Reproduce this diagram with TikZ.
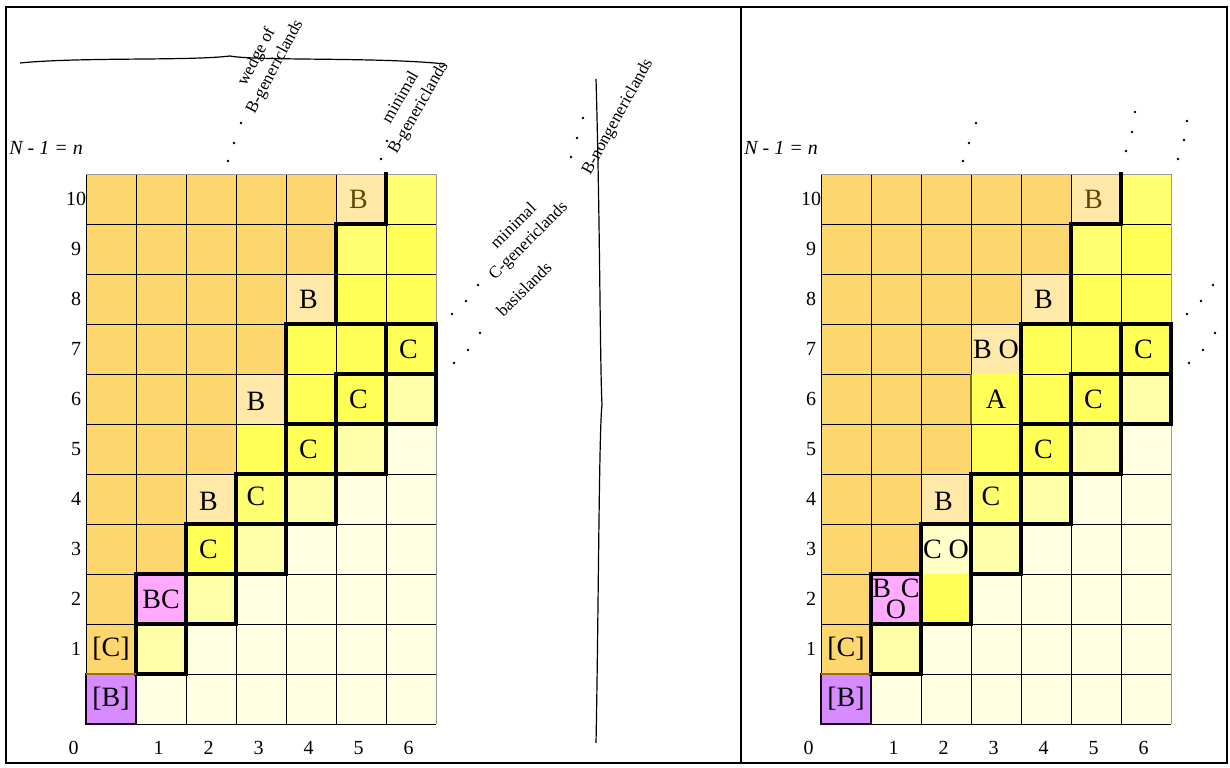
\documentclass[tikz,border=0pt]{standalone}
\usepackage{fontspec}
\setmainfont{Liberation Serif}
\usepackage{tikz}
\usetikzlibrary{positioning,calc}
\definecolor{wedgeorange}{RGB}{254,214,110}
\definecolor{bcellorange}{RGB}{255,232,168}
\definecolor{genyellow}{RGB}{255,255,85}
\definecolor{genyellowlt}{RGB}{255,255,112}
\definecolor{basisyellow}{RGB}{255,255,170}
\definecolor{coyellow}{RGB}{255,255,200}
\definecolor{paleyellow}{RGB}{255,255,226}
\definecolor{bcpink}{RGB}{255,170,255}
\definecolor{bpurple}{RGB}{214,140,255}
\definecolor{bbrown}{RGB}{95,72,10}
\definecolor{cbrown}{RGB}{150,110,20}

\begin{document}
\begin{tikzpicture}[x=37.5pt, y=37.5pt]
  \tikzstyle{gridline} = [line width=0.7pt, black]
  \tikzstyle{islandline} = [line width=2.6pt, black, line cap=rect]
  \tikzstyle{outerframe} = [line width=2pt, black]
  \tikzstyle{celltext} = [inner sep=0pt, font=\fontsize{21}{16}\selectfont]
  \tikzstyle{axislabel} = [inner sep=0pt, font=\fontsize{15}{15}\selectfont]
  \tikzstyle{rotlabel} = [inner sep=0pt, align=center, font=\fontsize{12.8}{15.5}\selectfont]
  \tikzstyle{dotfill} = [fill=black]

  \useasboundingbox (0,0) rectangle (24.6,15.34);
  \draw[outerframe] (0.12,0.08) rectangle (24.54,15.2);
  \draw[outerframe] (14.82,0.08) -- (14.82,15.2);

  % both grids
  \foreach \gx/\s in {1.72/l,16.42/r} {
    \begin{scope}[shift={(\gx,0.86)}]
      \fill[paleyellow] (0,0) rectangle (7,11);
      \foreach \r/\n in {10/5,9/5,8/4,7/4,6/3,5/3,4/2,3/2,2/1,1/1}
        \fill[wedgeorange] (0,\r) rectangle (\n,\r+1);
      \foreach \c/\r/\col in {5/10/bcellorange,4/8/bcellorange,2/4/bcellorange,
          6/10/genyellowlt,5/9/genyellowlt,6/9/genyellow,5/8/genyellow,6/8/genyellow,
          4/7/genyellow,5/7/genyellow,6/7/genyellow,4/6/genyellow,5/6/genyellow,
          3/5/genyellow,4/5/genyellow,3/4/genyellowlt,
          6/6/basisyellow,5/5/basisyellow,4/4/basisyellow,3/3/basisyellow,1/1/basisyellow,
          1/2/bcpink,0/0/bpurple}
        \fill[fill=\col] (\c,\r) rectangle ++(1,1);

      \foreach \i in {0,...,6}
        \draw[gridline] (\i,0) -- (\i,11);
      \foreach \j in {0,...,10}
        \draw[gridline] (0,\j) -- (7,\j);
      \draw[line width=0.7pt, black!40] (0,11) -- (7,11) -- (7,0);
    \end{scope}
  }

  % left grid
  \begin{scope}[shift={(1.72,0.86)}]
    \fill[genyellow] (2,3) rectangle (3,4);
    \fill[basisyellow] (2,2) rectangle (3,3);
    \fill[bcellorange] (3,6) rectangle (4,7);
    \draw[gridline] (2,2) rectangle (3,3);
    \draw[gridline] (3,6) rectangle (4,7);
    \draw[islandline] (6,11) -- (6,10) -- (5,10) -- (5,8) -- (4,8) -- (4,6);
    \draw[islandline] (4,8) -- (7,8);
    \foreach \c/\r in {6/7,5/6,4/5,3/4,2/3,1/2,6/6,5/5,4/4,3/3,2/2,1/1}
      \draw[islandline] (\c,\r) rectangle ++(1,1);
    \draw[line width=2pt, black!80!violet] (0,0) rectangle (1,1);
    \draw[line width=2pt, cbrown] (0,1) -- (1,1);
    \node[celltext] (l-b6) at (3.4,6.45) {B};
    \node[celltext] (l-c3) at (2.45,3.5) {C};
    \node[celltext] (l-bc) at (1.5,2.5) {BC};
    \foreach \px/\py in {5.90/11.30,6.02/11.66,9.70/11.34,9.82/11.72,9.94/12.12}
      \fill[dotfill] (\px,\py) circle (1.1pt);
  \end{scope}

  % right grid
  \begin{scope}[shift={(16.42,0.86)}]
    \fill[coyellow] (2,3) rectangle (3,4);
    \fill[genyellow] (2,2) rectangle (3,3);
    \fill[genyellow] (3,6) rectangle (4,7);
    \fill[bcellorange] (3,7) rectangle (4,8);
    \draw[gridline] (2,2) rectangle (3,4);
    \draw[gridline] (3,6) rectangle (4,8);
    \draw[islandline] (6,11) -- (6,10) -- (5,10) -- (5,8) -- (4,8) -- (4,6);
    \draw[islandline] (4,8) -- (7,8);
    \foreach \c/\r in {6/7,5/6,4/5,3/4,1/2,6/6,5/5,4/4,3/3,1/1}
      \draw[islandline] (\c,\r) rectangle ++(1,1);
    \draw[islandline] (2,3) -- (2,4) -- (3,4) -- (3,2) -- (2,2);
    \draw[line width=2pt, black!80!violet] (0,0) rectangle (1,1);
    \draw[line width=2pt, cbrown] (0,1) -- (1,1);
    \draw[line width=1.6pt, olive!80!black] (3,6) -- (3,7);
    \node[celltext] (r-bo) at (3.5,7.5) {B O};
    \node[celltext] (r-a) at (3.5,6.5) {A};
    \node[celltext] (r-co) at (2.5,3.5) {C O};
    \node[celltext, align=center] (r-bco) at (1.5,2.5) {B\hspace{0.35em}C\\O};
    \foreach \px/\py in {6.10/11.46,6.22/11.84,6.28/12.24,7.14/11.30,7.26/11.68,7.32/12.06}
      \fill[dotfill] (\px,\py) circle (1.1pt);
  \end{scope}

  % texts common to both grids
  \foreach \gx/\s in {1.72/l,16.42/r} {
    \begin{scope}[shift={(\gx,0.86)}]
      \node[celltext, text=bbrown] (\s-b10) at (5.45,10.5) {B};
      \node[celltext] (\s-b8) at (4.45,8.5) {B};
      \node[celltext] (\s-b4) at (2.45,4.45) {B};
      \node[celltext] (\s-c7) at (6.45,7.5) {C};
      \node[celltext] (\s-c6) at (5.45,6.5) {C};
      \node[celltext] (\s-c5) at (4.45,5.5) {C};
      \node[celltext] (\s-c4) at (3.4,4.55) {C};
      \node[celltext] (\s-c1) at (0.5,1.5) {[C]};
      \node[celltext] (\s-b0) at (0.5,0.5) {[B]};

      \foreach \r in {1,...,10}
        \node[axislabel] (\s-row\r) at (-0.2,\r+0.5) {\r};
      \node[axislabel] (\s-col0) at (-0.25,-0.48) {0};
      \foreach \c in {1,...,6}
        \node[axislabel] (\s-col\c) at (\c+0.45,-0.48) {\c};
      \node[axislabel, font=\fontsize{15}{15}\selectfont\itshape] (\s-nlabel) at (-0.8,11.52) {N - 1 = n};

      % dots
      \foreach \px/\py in {2.84/11.26,2.96/11.62,3.10/12.02,
          7.32/8.20,7.60/8.46,7.84/8.78,7.36/7.22,7.64/7.48,7.88/7.82}
        \fill[dotfill] (\px,\py) circle (1.1pt);
    \end{scope}
  }

  % labels and braces of the left panel
  \node[rotlabel, rotate=62] (wedge) at (5.32,14.10) {wedge of\\B-genericlands};
  \node[rotlabel, rotate=60] (minb) at (8.20,13.28) {minimal\\B-genericlands};
  \node[rotlabel, rotate=45] (minc) at (10.43,10.66) {minimal\\C-genericlands};
  \node[rotlabel, rotate=45] (basis) at (10.48,9.56) {basislands};
  \node[rotlabel, rotate=61] (nongen) at (12.36,13.0) {B-nongenericlands};

  \draw[line width=0.9pt] (0.40,14.08) .. controls (1.6,14.2) and (3.8,14.12) .. (4.60,14.22)
    .. controls (5.1,14.12) and (7.6,14.2) .. (8.90,14.06);
  \draw[line width=0.9pt] (11.92,13.76) .. controls (12.0,11.0) and (12.0,8.0) .. (12.04,7.24)
    .. controls (11.98,6.8) and (11.97,3.0) .. (11.92,0.48);
\end{tikzpicture}
\end{document}
